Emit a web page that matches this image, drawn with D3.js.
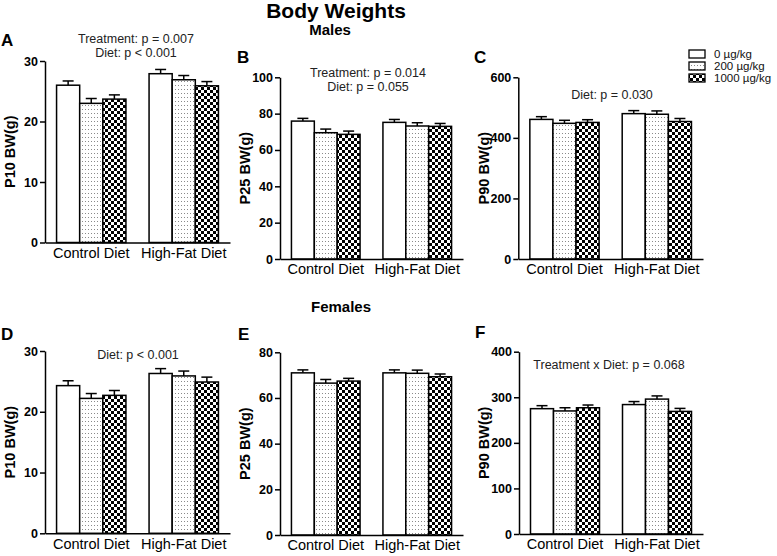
<!DOCTYPE html>
<html>
<head>
<meta charset="utf-8">
<script src="https://cdn.jsdelivr.net/npm/d3@7"></script>
<style>
  html, body { margin: 0; padding: 0; background: #fff; }
  svg { display: block; font-family: "Liberation Sans", Arial, Helvetica, sans-serif; }
</style>
</head>
<body>
<svg id="chart" width="777" height="556"></svg>
<script>
// ---------------- DATA ----------------
const categories = ["Control Diet", "High-Fat Diet"];
const doses = ["0 µg/kg", "200 µg/kg", "1000 µg/kg"];

// means ordered: Control (0, 200, 1000), High-Fat (0, 200, 1000)
const maleP10Mean = [26.0, 23.0, 23.7, 27.9, 26.9, 25.9];
const maleP10Sem  = [0.7, 0.8, 0.7, 0.7, 0.7, 0.7];
const maleP25Mean = [75.9, 69.5, 68.6, 75.2, 73.2, 73.0];
const maleP25Sem  = [1.5, 2.0, 1.8, 1.6, 1.8, 1.6];
const maleP90Mean = [461, 448, 451, 480, 478, 454];
const maleP90Sem  = [9, 10, 9, 10, 11, 10];
const femaleP10Mean = [24.3, 22.2, 22.7, 26.3, 25.9, 24.9];
const femaleP10Sem  = [0.8, 0.8, 0.8, 0.8, 0.8, 0.8];
const femaleP25Mean = [71.0, 66.5, 67.4, 71.0, 70.8, 69.3];
const femaleP25Sem  = [1.3, 1.6, 1.2, 1.3, 1.4, 1.2];
const femaleP90Mean = [275, 270, 277, 284, 296, 269];
const femaleP90Sem  = [6.6, 7, 6, 6.6, 7, 6.6];

const ticksP10 = [0, 10, 20, 30];
const ticksMaleP25 = [0, 20, 40, 60, 80, 100];
const ticksMaleP90 = [0, 200, 400, 600];
const ticksFemaleP25 = [0, 20, 40, 60, 80];
const ticksFemaleP90 = [0, 100, 200, 300, 400];

const yLabels = ["P10 BW(g)", "P25 BW(g)", "P90 BW(g)"];
const panelLetters = ["A", "B", "C", "D", "E", "F"];
const statsA = ["Treatment: p = 0.007", "Diet: p < 0.001"];
const statsB = ["Treatment: p = 0.014", "Diet: p = 0.055"];
const statsC = ["Diet: p = 0.030"];
const statsD = ["Diet: p < 0.001"];
const statsE = [];
const statsF = ["Treatment x Diet: p = 0.068"];

// ---------------- DRAW ----------------
const svg = d3.select("#chart");
const defs = svg.append("defs");

// dotted pattern
const dots = defs.append("pattern").attr("id", "dots")
  .attr("patternUnits", "userSpaceOnUse").attr("width", 3).attr("height", 4);
dots.append("rect").attr("width", 3).attr("height", 4).attr("fill", "#fff");
dots.append("rect").attr("x", 1).attr("y", 1).attr("width", 1).attr("height", 1).attr("fill", "#8a8a8a");

// checker pattern
const checker = defs.append("pattern").attr("id", "checker")
  .attr("patternUnits", "userSpaceOnUse").attr("width", 6).attr("height", 6);
checker.append("rect").attr("width", 6).attr("height", 6).attr("fill", "#fff");
checker.append("rect").attr("x", 0).attr("y", 0).attr("width", 3).attr("height", 3).attr("fill", "#000");
checker.append("rect").attr("x", 3).attr("y", 3).attr("width", 3).attr("height", 3).attr("fill", "#000");

const fills = ["#fff", "url(#dots)", "url(#checker)"];

// titles
svg.append("text").attr("x", 336).attr("y", 18).attr("text-anchor", "middle")
  .attr("font-size", 21).attr("font-weight", "bold").text("Body Weights");
svg.append("text").attr("x", 330).attr("y", 35).attr("text-anchor", "middle")
  .attr("font-size", 15).attr("font-weight", "bold").text("Males");
svg.append("text").attr("x", 341).attr("y", 312).attr("text-anchor", "middle")
  .attr("font-size", 15).attr("font-weight", "bold").text("Females");

const panels = [
  {mean: maleP10Mean, sem: maleP10Sem, ticks: ticksP10, yl: yLabels[0], letter: panelLetters[0], stats: statsA,
   l: 45, r: 230, t: 61, b: 242.5, labX: 15, letX: 1, letY: 46, statX: 136, statY: 42.5},
  {mean: maleP25Mean, sem: maleP25Sem, ticks: ticksMaleP25, yl: yLabels[1], letter: panelLetters[1], stats: statsB,
   l: 280, r: 463, t: 77.3, b: 259, labX: 250, letX: 237, letY: 63, statX: 368, statY: 76.5},
  {mean: maleP90Mean, sem: maleP90Sem, ticks: ticksMaleP90, yl: yLabels[2], letter: panelLetters[2], stats: statsC,
   l: 518.3, r: 703, t: 77.3, b: 259, labX: 489, letX: 474, letY: 63, statX: 612, statY: 99},
  {mean: femaleP10Mean, sem: femaleP10Sem, ticks: ticksP10, yl: yLabels[0], letter: panelLetters[3], stats: statsD,
   l: 45, r: 230, t: 351, b: 533.3, labX: 15, letX: 1, letY: 340, statX: 138, statY: 358.5},
  {mean: femaleP25Mean, sem: femaleP25Sem, ticks: ticksFemaleP25, yl: yLabels[1], letter: panelLetters[4], stats: statsE,
   l: 280, r: 463, t: 352.3, b: 535, labX: 250, letX: 238, letY: 340, statX: 370, statY: 365},
  {mean: femaleP90Mean, sem: femaleP90Sem, ticks: ticksFemaleP90, yl: yLabels[2], letter: panelLetters[5], stats: statsF,
   l: 519, r: 703, t: 351.7, b: 534, labX: 489, letX: 475, letY: 338, statX: 609, statY: 369}
];

panels.forEach(p => {
  const g = svg.append("g");
  const ymax = p.ticks[p.ticks.length - 1];
  const y = d3.scaleLinear().domain([0, ymax]).range([p.b, p.t]);
  const x0 = d3.scaleBand().domain(categories).range([p.l, p.r]).paddingInner(0.25).paddingOuter(0.125);
  const x1 = d3.scaleBand().domain(doses).range([0, x0.bandwidth()]);

  const rows = [];
  categories.forEach((c, ci) => doses.forEach((d, di) => {
    rows.push({cat: c, dose: d, di, m: p.mean[ci * 3 + di], s: p.sem[ci * 3 + di]});
  }));

  // error bars (upper only)
  const eb = g.append("g").attr("stroke", "#000").attr("stroke-width", 1.5).attr("fill", "none");
  rows.forEach(d => {
    const cx = x0(d.cat) + x1(d.dose) + x1.bandwidth() / 2;
    eb.append("line").attr("x1", cx).attr("x2", cx).attr("y1", y(d.m)).attr("y2", y(d.m + d.s));
    eb.append("line").attr("x1", cx - 5.5).attr("x2", cx + 5.5).attr("y1", y(d.m + d.s)).attr("y2", y(d.m + d.s));
  });

  // bars
  g.append("g").selectAll("rect").data(rows).join("rect")
    .attr("x", d => x0(d.cat) + x1(d.dose))
    .attr("y", d => y(d.m))
    .attr("width", x1.bandwidth())
    .attr("height", d => p.b - y(d.m))
    .attr("fill", d => fills[d.di])
    .attr("stroke", "#000").attr("stroke-width", 1.5);

  // y axis
  const ya = g.append("g").attr("transform", `translate(${p.l},0)`)
    .call(d3.axisLeft(y).tickValues(p.ticks).tickSize(5).tickSizeOuter(0).tickPadding(2));
  ya.select(".domain").attr("stroke", "#000").attr("stroke-width", 1.5);
  ya.selectAll(".tick line").attr("stroke", "#000").attr("stroke-width", 1.5);
  ya.selectAll(".tick text").attr("font-size", 12.5).attr("font-weight", "bold")
    .attr("font-family", "Liberation Sans, Arial, sans-serif").attr("fill", "#000");

  // x axis
  const xa = g.append("g").attr("transform", `translate(0,${p.b})`)
    .call(d3.axisBottom(x0).tickSize(0).tickSizeOuter(0).tickPadding(5));
  xa.select(".domain").attr("stroke", "#000").attr("stroke-width", 1.5);
  xa.selectAll(".tick text").attr("font-size", 14.5).attr("dy", "0.71em")
    .attr("font-family", "Liberation Sans, Arial, sans-serif").attr("fill", "#000");

  // y label
  g.append("text").attr("transform", `translate(${p.labX},${(p.t + p.b) / 2}) rotate(-90)`)
    .attr("text-anchor", "middle").attr("font-size", 14.5).attr("font-weight", "bold").text(p.yl);

  // panel letter
  g.append("text").attr("x", p.letX).attr("y", p.letY).attr("font-size", 17)
    .attr("font-weight", "bold").text(p.letter);

  // stats
  p.stats.forEach((s, i) => {
    g.append("text").attr("x", p.statX).attr("y", p.statY + i * 14.5).attr("text-anchor", "middle")
      .attr("font-size", 12.5).attr("fill", "#222").text(s);
  });
});

// legend
const lg = svg.append("g");
doses.forEach((d, i) => {
  const cy = 54 + i * 12;
  lg.append("rect").attr("x", 689).attr("y", cy - 4).attr("width", 16).attr("height", 8)
    .attr("fill", fills[i]).attr("stroke", "#000").attr("stroke-width", 1.3);
  lg.append("text").attr("x", 714).attr("y", cy + 4).attr("font-size", 11.5).attr("fill", "#111").text(d);
});
</script>
</body>
</html>
